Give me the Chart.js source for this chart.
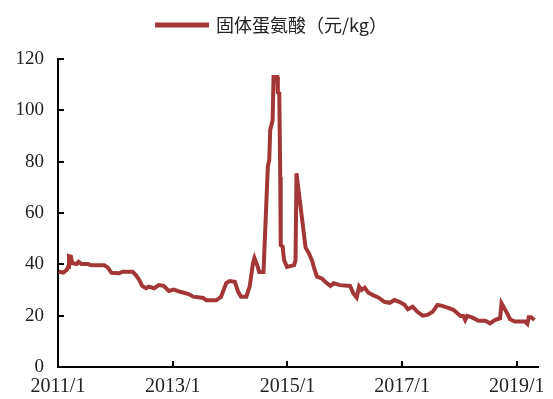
<!DOCTYPE html>
<html>
<head>
<meta charset="utf-8">
<script src="https://cdn.jsdelivr.net/npm/chart.js@4.4.1/dist/chart.umd.min.js"></script>
<style>
  html, body { margin: 0; padding: 0; background: #ffffff; }
  #wrap { width: 553px; height: 399px; }
</style>
</head>
<body>
<div id="wrap"><canvas id="c" width="553" height="399"></canvas></div>
<script>
// Months elapsed since 2011/1 for each observation
const months = [
  0.1, 1.1, 1.8, 2.1, 2.3, 2.7, 3.0, 3.9, 4.3, 4.9, 6.3, 7.0, 9.7, 10.4, 11.2, 12.8, 13.5, 15.6, 16.3, 17.0,
  17.6, 18.4, 19.0, 20.1, 21.1, 22.1, 23.2, 24.2, 25.6, 27.3, 28.3, 30.4, 31.0, 33.1, 34.1, 35.2, 35.9, 37.0, 37.7, 38.3,
  39.4, 40.1, 40.8, 41.1, 41.8, 42.1, 43.0, 43.9, 44.2, 44.4, 44.9, 45.1, 45.9, 46.0, 46.3, 46.5, 46.6, 47.0, 47.3, 47.9,
  49.4, 49.7, 49.9, 51.8, 52.5, 53.2, 53.7, 54.2, 55.2, 55.9, 57.0, 57.7, 59.0, 61.1, 61.8, 62.5, 63.0, 63.5, 64.2, 64.9,
  65.9, 67.0, 68.3, 69.4, 70.4, 71.4, 72.5, 73.2, 74.2, 75.2, 76.3, 77.3, 78.4, 79.4, 80.4, 81.8, 82.8, 84.2, 84.8, 85.2,
  85.6, 86.6, 88.0, 89.4, 90.4, 91.4, 92.5, 92.8, 93.9, 94.6, 95.6, 97.7, 98.2, 98.5, 99.0, 99.7
];
// 固体蛋氨酸 price (元/kg)
const prices = [
  37.1, 36.8, 37.8, 39.0, 43.2, 43.0, 40.4, 40.1, 41.0, 40.1, 40.1, 39.6, 39.6, 38.8, 36.7, 36.5, 37.1, 37.1, 35.8, 33.9,
  31.6, 30.7, 31.3, 30.7, 31.9, 31.6, 29.6, 30.2, 29.3, 28.4, 27.4, 26.9, 26.0, 26.0, 27.3, 32.7, 33.5, 33.2, 29.3, 27.4,
  27.4, 31.3, 40.5, 42.5, 39.0, 37.0, 37.0, 78.0, 80.6, 92.3, 96.0, 113.0, 113.0, 107.0, 106.6, 74.0, 47.5, 46.9, 41.7, 39.0,
  39.7, 41.7, 75.5, 46.5, 44.3, 41.2, 37.8, 35.2, 34.5, 33.2, 31.6, 32.6, 31.9, 31.6, 28.7, 27.1, 31.3, 30.0, 30.9, 29.0,
  28.0, 27.1, 25.4, 25.0, 26.1, 25.4, 24.2, 22.5, 23.5, 21.5, 20.0, 20.3, 21.5, 24.2, 23.8, 22.9, 22.2, 19.9, 19.9, 18.3,
  19.9, 19.3, 18.0, 18.0, 17.0, 18.3, 19.0, 24.8, 21.2, 18.6, 17.7, 17.7, 16.8, 19.4, 19.4, 18.3
];
const seriesName = '固体蛋氨酸（元/kg）';
const xTickMonths = [0, 24, 48, 72, 96];
const xTickLabels = ['2011/1', '2013/1', '2015/1', '2017/1', '2019/1'];
const yTicks = [0, 20, 40, 60, 80, 100, 120];

const points = months.map((m, i) => ({ x: m, y: prices[i] }));
const lineColor = 'rgb(163,55,55)';

const legendGap = {
  id: 'legendGap',
  beforeLayout(chart) {
    const lg = chart.legend;
    if (lg && !lg._gapPatched) {
      lg._gapPatched = true;
      const origFit = lg.fit;
      lg.fit = function () { origFit.call(this); this.height += 15; };
    }
  }
};

const innerTicks = {
  id: 'innerTicks',
  afterDraw(chart) {
    const ctx = chart.ctx;
    const xs = chart.scales.x, ys = chart.scales.y;
    const area = chart.chartArea;
    ctx.save();
    ctx.strokeStyle = '#000';
    ctx.lineWidth = 2;
    ctx.beginPath();
    yTicks.forEach(v => {
      const py = Math.round(ys.getPixelForValue(v));
      ctx.moveTo(area.left, py);
      ctx.lineTo(area.left + 6, py);
    });
    xTickMonths.forEach(v => {
      const px = Math.round(xs.getPixelForValue(v));
      ctx.moveTo(px, area.bottom);
      ctx.lineTo(px, area.bottom - 6);
    });
    ctx.stroke();
    ctx.restore();
  }
};

new Chart(document.getElementById('c'), {
  type: 'line',
  data: {
    datasets: [{
      label: seriesName,
      data: points,
      borderColor: lineColor,
      backgroundColor: lineColor,
      borderWidth: 4,
      pointRadius: 0,
      tension: 0,
      fill: false
    }]
  },
  options: {
    responsive: false,
    animation: false,
    devicePixelRatio: 1,
    layout: { padding: { left: 0, right: 9, top: 8, bottom: 0 } },
    plugins: {
      legend: {
        display: true,
        position: 'top',
        labels: {
          boxWidth: 50,
          boxHeight: 1,
          padding: 8,
          color: '#222',
          font: { family: '"Noto Sans CJK SC", "Liberation Serif", serif', size: 18 }
        }
      },
      tooltip: { enabled: false }
    },
    scales: {
      x: {
        type: 'linear',
        min: 0,
        max: 100.5,
        afterBuildTicks(scale) {
          scale.ticks = xTickMonths.map(v => ({ value: v }));
        },
        afterFit(scale) { scale.height = 32; },
        grid: { display: false, drawTicks: false },
        border: { display: true, color: '#000', width: 2 },
        ticks: {
          padding: 8,
          maxRotation: 0,
          autoSkip: false,
          color: '#222',
          font: { family: '"Liberation Serif", serif', size: 20 },
          callback: (v) => {
            const i = xTickMonths.indexOf(v);
            return i >= 0 ? xTickLabels[i] : '';
          }
        }
      },
      y: {
        min: 0,
        max: 120,
        afterBuildTicks(scale) {
          scale.ticks = yTicks.map(v => ({ value: v }));
        },
        afterFit(scale) { scale.width = 58; },
        grid: { display: false, drawTicks: false },
        border: { display: true, color: '#000', width: 2 },
        ticks: {
          padding: 14,
          color: '#222',
          font: { family: '"Liberation Serif", serif', size: 19 }
        }
      }
    }
  },
  plugins: [legendGap, innerTicks]
});
</script>
</body>
</html>
